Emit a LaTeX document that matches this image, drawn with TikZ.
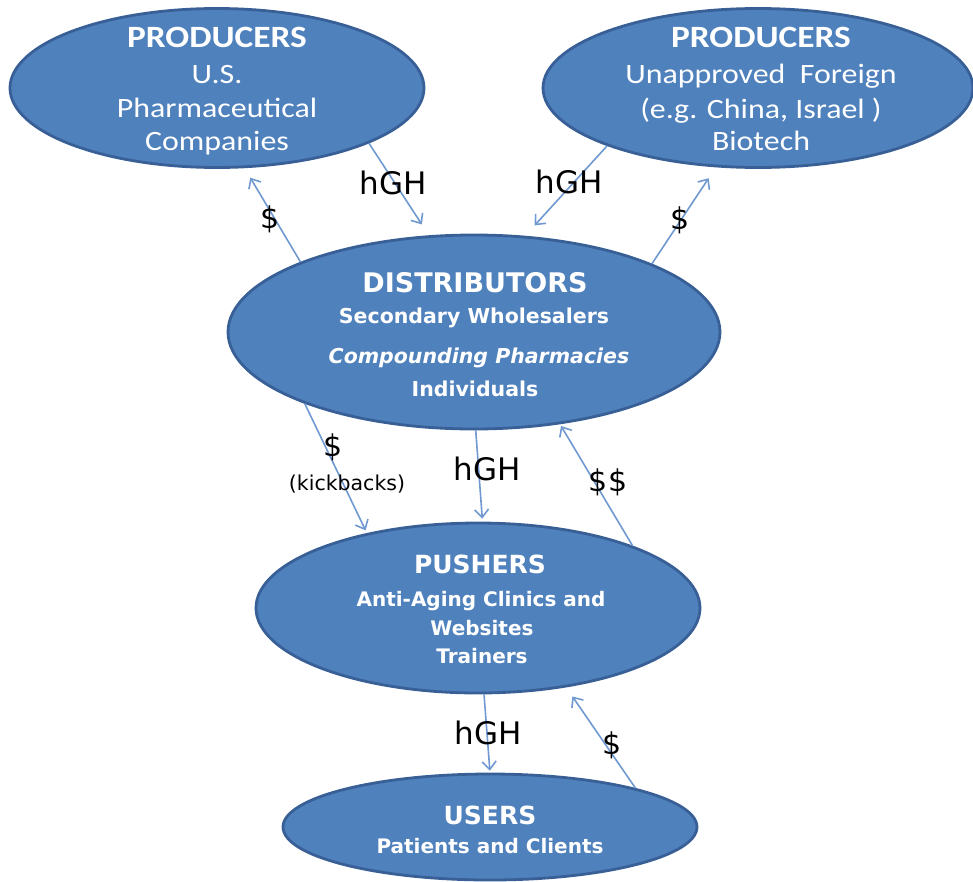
\documentclass[tikz,border=0pt]{standalone}
\usepackage{fontspec}
\usetikzlibrary{arrows.meta,shapes.geometric}
\newfontfamily\topfont[FakeStretch=1.14]{Carlito}
\newfontfamily\dvfont{DejaVu Sans}
\definecolor{efill}{HTML}{4F81BD}
\definecolor{edraw}{HTML}{385F96}
\definecolor{arrc}{RGB}{112,153,210}
\begin{document}
\begin{tikzpicture}[x=1pt,y=-1pt,
  blob/.style={ellipse,fill=efill,draw=edraw,line width=2.8pt,inner sep=0pt},
  wt/.style={text=white,anchor=base,inner sep=0pt},
  toptitle/.style={wt,font=\topfont\bfseries\fontsize{31}{31}\selectfont},
  topline/.style={wt,font=\topfont\fontsize{28}{28}\selectfont},
  lowtitle/.style={wt,font=\dvfont\bfseries\fontsize{25}{25}\selectfont},
  lowline/.style={wt,font=\dvfont\bfseries\fontsize{20}{20}\selectfont},
  flow/.style={draw=arrc,line width=1.6pt,-{Straight Barb[length=8pt,width=14pt,line width=1.6pt]}},
  lbl/.style={text=black,font=\dvfont\fontsize{31}{31}\selectfont,inner sep=0pt},
  dol/.style={text=black,font=\dvfont\fontsize{30}{30}\selectfont,inner sep=0pt},
]
\useasboundingbox[fill=white] (0,0) rectangle (973,881);
% ellipses
\node[blob,minimum width=414pt,minimum height=159pt] (lp) at (217,88) {};
\node[blob,minimum width=430pt,minimum height=159pt] (rp) at (758,88) {};
\node[blob,minimum width=492pt,minimum height=194pt] (dist) at (474,332) {};
\node[blob,minimum width=444pt,minimum height=170pt] (push) at (478,608) {};
\node[blob,minimum width=414pt,minimum height=106pt] (users) at (490,827) {};
% texts
\node[toptitle] (lp1) at (217,47) {PRODUCERS};
\node[topline] (lp2) at (217,83) {U.S.};
\node[topline] (lp3) at (217,117) {Pharmaceutical};
\node[topline] (lp4) at (217,150) {Companies};
\node[toptitle] (rp1) at (761,47) {PRODUCERS};
\node[topline] (rp2) at (761,83) {Unapproved\ \ Foreign};
\node[topline] (rp3) at (761,118) {(e.g. China, Israel )};
\node[topline] (rp4) at (761,150) {Biotech};
\node[lowtitle,font=\dvfont\bfseries\fontsize{27}{27}\selectfont] (d1) at (475,292) {DISTRIBUTORS};
\node[lowline,font=\dvfont\bfseries\fontsize{20.5}{20.5}\selectfont] (d2) at (474,323) {Secondary Wholesalers};
\node[lowline,font=\dvfont\bfseries\itshape\fontsize{20.5}{20.5}\selectfont] (d3) at (479,363) {Compounding Pharmacies};
\node[lowline,font=\dvfont\bfseries\fontsize{20.5}{20.5}\selectfont] (d4) at (475,396) {Individuals};
\node[lowtitle] (p1) at (480,573) {PUSHERS};
\node[lowline] (p2) at (481,606) {Anti-Aging Clinics and};
\node[lowline] (p3) at (482,635) {Websites};
\node[lowline] (p4) at (482,663) {Trainers};
\node[lowtitle] (u1) at (490,824) {USERS};
\node[lowline] (u2) at (490,853) {Patients and Clients};
% connectors
\draw[flow,shorten >=13pt] (lp.-20.7) -- (dist.115.5);
\draw[flow,shorten >=11pt] (dist.158.1) -- (lp.-71.9);
\draw[flow,shorten >=14pt] (rp.-159.3) -- (dist.62.2);
\draw[flow,shorten >=13pt] (dist.21.5) -- (rp.-118.7);
\draw[flow,shorten >=3pt] (dist.-157.7) -- (push.146.1);
\draw[flow,shorten >=3pt] (dist.-89.4) -- (push.87.4);
\draw[flow,shorten >=2pt] (push.22.2) -- (dist.-47.2);
\draw[flow,shorten >=2pt] (push.-86.7) -- (users.90);
\draw[flow,shorten >=11pt] (users.15.6) -- (push.-42.8);
% labels
\node[lbl] (l1) at (393,183) {hGH};
\node[lbl] (l2) at (569,182) {hGH};
\node[dol] (l3) at (270,219) {\$};
\node[dol] (l4) at (680,220) {\$};
\node[dol] (l5) at (333,447) {\$};
\node[text=black,font=\dvfont\fontsize{20.5}{20.5}\selectfont,inner sep=0pt] (l6) at (347,484) {(kickbacks)};
\node[lbl] (l7) at (487,469) {hGH};
\node[dol] (l8) at (608,482) {\$\$};
\node[lbl] (l9) at (488,733) {hGH};
\node[dol] (l10) at (612,745) {\$};
\end{tikzpicture}
\end{document}
